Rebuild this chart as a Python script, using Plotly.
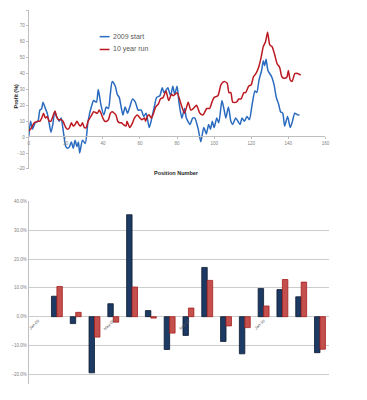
import plotly.graph_objects as go

# page body has an 8px margin; the figure is laid out in reference-pixel terms
OFF = 8
W, H = 367 - 2 * OFF, 400 - 2 * OFF
def px(x): return (x - OFF) / W
def py(y): return min(1.0, 1 - (y - OFF) / H)

# ---- top chart data ----
blue_name = "2009 start"
blue_x = [0, 1, 2, 3.5, 5, 6, 7, 7.7, 9, 10, 11, 12, 13, 14, 15, 16.5, 17.5, 18.5, 20, 21, 22, 23, 24, 25, 26, 26.8,
          27.5, 29, 30.5, 32, 34, 35, 36.5, 37.5, 38.3, 39, 40.5, 41.8, 43, 44, 45, 46.7, 47.7, 48.8, 50, 50.8, 52,
          53.3, 54.5, 56, 57.5, 59, 60.7, 62, 63.3, 65, 66, 67.7, 69, 70.7, 72, 73, 75, 76.5, 77.7, 78.7, 80, 81,
          82.6, 84, 85, 87, 88.4, 89.6, 91.4, 92.8, 94.4, 95.8, 97, 98, 99, 100, 101.4, 102.5, 104.2, 105.4, 106.3,
          107.7, 109, 110, 111.6, 112.8, 114, 115, 116.3, 117.7, 119, 120.4, 122, 123, 124.2, 125.6, 126.5, 127.2,
          128, 129, 131, 132.3, 133.5, 134.7, 135.8, 137, 138, 139.6, 141, 142, 143.5, 145, 146]
blue_y = [0, 10, 5, 9, 10, 17, 18, 22, 18, 15, 9, 3, 8, 16, 13, 10, 12, 5, -6, -7, -6, -3, -7, -2, -6, -3,
          -10, -2, -4, 10, 20, 23, 22, 30, 25, 20, 14, 19, 18, 27, 35, 32, 27, 25, 18, 14, 19,
          15, 19, 24, 22, 17, 17, 13, 15, 6, 10, 19, 25, 26, 31, 28, 31, 26, 32, 27, 32, 22,
          12, 18, 12, 8, 12, 12, 5, -3, 6, 2, 8, 5, 10, 6, 12, 9, 23, 17, 12,
          19, 10, 8, 12, 10, 8, 12, 10, 13, 11, 20, 29, 28, 36, 42, 48, 45,
          49, 42, 38, 33, 25, 21, 16, 15, 7, 13, 6, 9, 15, 14, 14]

red_name = "10 year run"
red_x = [0, 1, 2, 3, 5, 6, 7, 8, 9, 10, 11, 12, 13, 14.2, 15, 16, 17.5, 18.5, 20, 21, 22, 23, 24, 25, 26, 27, 28,
         29, 30, 31, 32, 34, 35, 37, 38, 39, 40, 41, 42, 43, 44, 45, 47, 48, 49, 50, 51, 52.5, 53, 54.5, 56, 57,
         58.5, 60, 61, 62.5, 63, 64, 65, 66, 67, 68.5, 70, 71, 72.5, 74, 75.5, 77, 78, 80, 81.8, 84, 86, 87.4,
         88.8, 90.5, 92.3, 94, 96, 97.5, 98.8, 100, 102, 103.7, 105.4, 107, 108, 109, 110, 112, 113.3, 114.5,
         116, 117, 118.6, 120, 121.2, 122.5, 124, 125.3, 126.5, 127.7, 128.8, 130, 131.2, 132.6, 134, 135.3,
         136.5, 138, 139.3, 140, 141, 142, 143.5, 145, 146.7]
red_y = [4, 5, 7, 9, 10, 10, 12, 15, 12, 13, 10, 10, 13, 16.5, 13, 11, 11, 10, 6, 5, 6, 9, 7, 8, 10, 8, 7,
         9, 6, 6, 10, 14, 16, 15, 17, 15, 12, 10, 10, 11, 15, 16, 14, 10, 9, 9, 8, 7, 10, 6, 9, 12,
         14, 12, 11, 12, 10, 13, 14, 12, 14, 19, 21, 24, 25, 29, 23, 27, 26, 28, 22, 15, 22, 17,
         18, 20, 15, 14, 18, 18, 22, 25, 26, 33, 35, 34, 28, 28, 22, 22, 24, 24,
         28, 28, 32, 33, 38, 40, 44, 50, 57, 60, 66, 58, 57, 52, 46, 44,
         38, 37, 38, 42, 36, 35, 40, 40, 39]

# ---- bottom chart data ----
categories = ["Jan-09", "Feb-09", "Mar-09", "Apr-09", "May-09", "Jun-09", "Jul-09", "Aug-09",
              "Sep-09", "Oct-09", "Nov-09", "Dec-09", "Jan-10", "Feb-10", "Mar-10", "Apr-10"]
dark_vals = [None, 7.1, -2.4, -19.5, 4.5, 35.4, 2.1, -11.4, -6.5, 17.1, -8.6, -12.9, 9.8, 9.4, 6.9, -12.5]
red_vals = [None, 10.5, 1.5, -7.1, -1.9, 10.3, -0.5, -5.7, 3.0, 12.6, -3.2, -3.8, 3.7, 12.9, 12.0, -11.3]
shown_ticks = [categories[i] for i in (0, 4, 8, 12)]

BLUE = "#2A6BBF"
RED = "#BB1A22"
AX = "#BFBFBF"
TXT = "#7F7F7F"
FONT = "Liberation Sans"

fig = go.Figure()
fig.add_trace(go.Scatter(x=blue_x, y=blue_y, mode="lines", name=blue_name,
                         line=dict(color=BLUE, width=1.5, shape="spline", smoothing=0.6),
                         xaxis="x", yaxis="y", showlegend=False))
fig.add_trace(go.Scatter(x=red_x, y=red_y, mode="lines", name=red_name,
                         line=dict(color=RED, width=1.5, shape="spline", smoothing=0.6),
                         xaxis="x", yaxis="y", showlegend=False))

fig.add_trace(go.Bar(x=categories, y=dark_vals, xaxis="x2", yaxis="y2", showlegend=False,
                     marker=dict(color="#1C3A63", line=dict(color="#0B1A30", width=0.8))))
fig.add_trace(go.Bar(x=categories, y=red_vals, xaxis="x2", yaxis="y2", showlegend=False,
                     marker=dict(color="#C4504D", line=dict(color="#A51F1F", width=0.8))))

annotations = [
    dict(text="Position Number", x=px(178), y=py(173), xref="paper", yref="paper",
         showarrow=False, font=dict(size=5.5, color="#262626", family=FONT, weight="bold")),
    dict(text="Profit (%)", x=px(10), y=py(80), xref="paper", yref="paper", textangle=-90,
         showarrow=False, font=dict(size=5.5, color="#262626", family=FONT, weight="bold")),
]
shapes = []
for name, color, yy in ((blue_name, BLUE, 35), (red_name, RED, 48)):
    shapes.append(dict(type="line", xref="paper", yref="paper", x0=px(100), x1=px(110),
                       y0=py(yy), y1=py(yy), line=dict(color=color, width=1.5)))
    annotations.append(dict(text=name, x=px(111), y=py(yy), xref="paper", yref="paper",
                            xanchor="left", yanchor="middle", showarrow=False,
                            font=dict(size=7, color="#595959", family=FONT)))

fig.update_layout(
    width=W, height=H, margin=dict(l=0, r=0, t=0, b=0),
    paper_bgcolor="white", plot_bgcolor="white",
    font=dict(family=FONT, color=TXT),
    barmode="group", bargap=0.42, bargroupgap=0,
    annotations=annotations, shapes=shapes,
    xaxis=dict(domain=[px(28), px(329)], range=[0, 160], tickvals=list(range(0, 161, 20)),
               anchor="free", position=py(136), showline=True, linecolor=AX, linewidth=1,
               ticks="outside", ticklen=2, tickcolor=AX, showgrid=False, zeroline=False,
               tickfont=dict(size=4.5, color=TXT)),
    yaxis=dict(domain=[py(169), py(8)], range=[-20, 80], dtick=10, anchor="x",
               showline=True, linecolor=AX, linewidth=1, ticks="outside", ticklen=2, tickcolor=AX,
               showgrid=False, zeroline=False, tickfont=dict(size=4.5, color=TXT)),
    xaxis2=dict(domain=[px(28), px(333)], type="category", categoryorder="array",
                categoryarray=categories, tickvals=shown_ticks, ticktext=shown_ticks,
                anchor="free", position=py(318.7), showline=False, ticks="", tickangle=-45,
                showgrid=False, zeroline=False, tickfont=dict(size=4, color="#595959")),
    yaxis2=dict(domain=[py(387), py(202)], range=[-23.4, 40], dtick=10, anchor="x2",
                tickformat=".1f", ticksuffix="%", showline=True, linecolor=AX, linewidth=1,
                showgrid=True, gridcolor="#CCCCCC", gridwidth=1, zeroline=False, ticks="",
                tickfont=dict(size=4.5, color=TXT)),
)

fig.write_html("out.html")
